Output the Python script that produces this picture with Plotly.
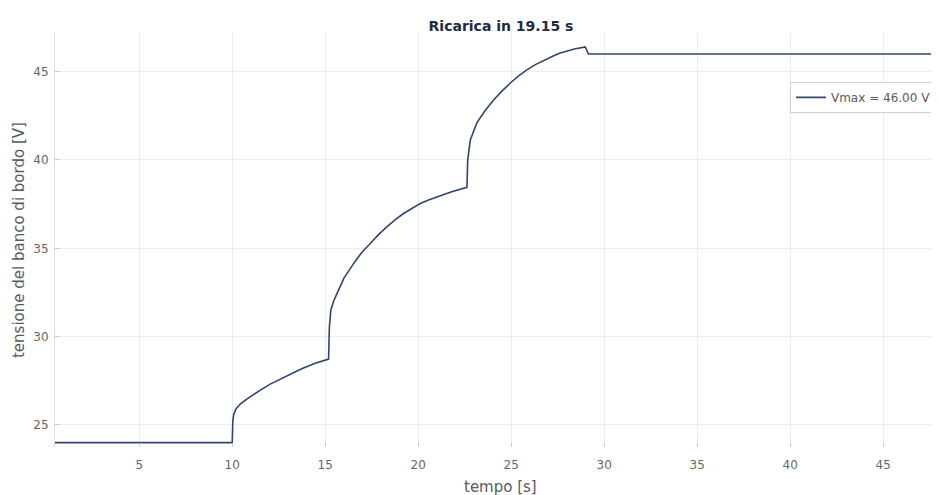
import plotly.graph_objects as go

# time [s] and voltage [V]
t = [0.47, 10.0, 10.03, 10.08, 10.2, 10.43, 10.8, 11.15, 11.6, 12.04, 12.5,
     12.94, 13.4, 13.83, 14.5, 15.18,
     15.22, 15.3, 15.45, 15.63, 16.0, 16.52, 16.95, 17.42, 17.85, 18.31, 18.75,
     19.21, 19.65, 20.11, 20.55, 21.0, 21.8, 22.62,
     22.66, 22.8, 22.95, 23.15, 23.6, 24.05, 24.5, 24.95, 25.4, 25.84, 26.3,
     26.74, 27.2, 27.63, 28.4, 28.98,
     29.15, 48.0]
v = [24.0, 24.0, 25.2, 25.6, 25.9, 26.18, 26.48, 26.74, 27.03, 27.31, 27.56,
     27.78, 28.01, 28.22, 28.5, 28.73,
     30.5, 31.5, 32.0, 32.43, 33.3, 34.13, 34.75, 35.27, 35.76, 36.21, 36.61,
     36.97, 37.27, 37.54, 37.74, 37.91, 38.2, 38.45,
     40.0, 41.14, 41.6, 42.1, 42.8, 43.4, 43.9, 44.36, 44.76, 45.1, 45.4,
     45.64, 45.86, 46.06, 46.28, 46.4,
     46.0, 46.0]

title_text = "Ricarica in 19.15 s"
x_label = "tempo [s]"
y_label = "tensione del banco di bordo [V]"
legend_name = "Vmax = 46.00 V"
x_ticks = [5, 10, 15, 20, 25, 30, 35, 40, 45]
y_ticks = [25, 30, 35, 40, 45]

FONT = "DejaVu Sans, Arial, sans-serif"

fig = go.Figure()
fig.add_trace(go.Scatter(x=t, y=v, mode="lines", name=legend_name,
                         line=dict(color="#30466f", width=1.6)))

# page has an 8px body margin, so the figure is sized 931x487
fig.update_layout(
    width=931, height=487,
    margin=dict(l=47, r=0, t=25, b=48, autoexpand=False),
    paper_bgcolor="white", plot_bgcolor="white",
    font=dict(family=FONT, size=12, color="#5a5a5a"),
    title=dict(text="<b>" + title_text + "</b>", xref="paper", x=0.5045,
               xanchor="center", yref="container", y=0.963, yanchor="middle",
               font=dict(family=FONT, size=14, color="#1f2a44")),
    showlegend=True,
    legend=dict(x=0.9977, xanchor="right", y=0.882, yanchor="top",
                bgcolor="white", bordercolor="#d0d0d0", borderwidth=1,
                font=dict(family=FONT, size=12, color="#5a5a5a"), itemwidth=30,
                tracegroupgap=0),
    xaxis=dict(range=[0.47, 48.0], tickvals=x_ticks, showgrid=True, automargin=False,
               gridcolor="#ececec", zeroline=False, showline=False,
               ticks="inside", ticklen=4, tickcolor="#c8c8c8",
               ticklabelstandoff=9,
               tickfont=dict(family=FONT, size=12, color="#666")),
    yaxis=dict(range=[23.75, 47.19], tickvals=y_ticks, showgrid=True, automargin=False,
               gridcolor="#ececec", zeroline=False, showline=True,
               linecolor="#e0e0e0", linewidth=1,
               ticks="inside", ticklen=4, tickcolor="#c8c8c8",
               ticklabelstandoff=3,
               tickfont=dict(family=FONT, size=12, color="#666")),
    annotations=[
        dict(text=x_label, xref="paper", yref="paper", x=0.5045, y=-0.097,
             xanchor="center", yanchor="middle", showarrow=False,
             font=dict(family=FONT, size=15, color="#5a5a5a")),
        dict(text=y_label, xref="paper", yref="paper", x=-0.0407, y=0.5,
             xanchor="center", yanchor="middle", textangle=-90, showarrow=False,
             font=dict(family=FONT, size=15, color="#5a5a5a")),
    ],
)

fig.write_html("out.html")
